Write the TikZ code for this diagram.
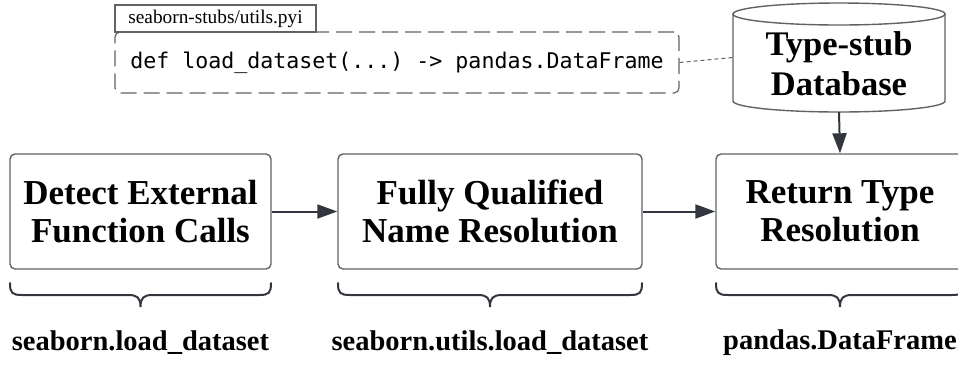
\documentclass[tikz,border=0pt]{standalone}
\usepackage{fontspec}
\setmainfont{Liberation Serif}
\newfontfamily\codefont{DejaVu Sans Mono}
\usetikzlibrary{arrows.meta}
\definecolor{boxline}{HTML}{5F6368}
\definecolor{darkline}{HTML}{33373D}
\tikzset{
  stepbox/.style={draw=boxline, line width=1.4pt, rounded corners=5pt, inner sep=0pt,
    minimum height=115pt, align=center, font=\fontsize{35}{38}\selectfont\bfseries},
  flow/.style={draw=darkline, line width=2pt, -{Triangle[length=20pt,width=14pt]}},
  bracepath/.style={draw=darkline, line width=2pt, line cap=round},
  outlabel/.style={font=\fontsize{28.5}{32}\selectfont\bfseries, inner sep=0pt},
}
\begin{document}
\frenchspacing
\begin{tikzpicture}[x=1pt,y=-1pt]
\useasboundingbox (0,0) rectangle (958,365);
\clip (0,0) rectangle (958,365);
% code box
\node (code) [draw=boxline, line width=1.2pt, dash pattern=on 16pt off 7pt, rounded corners=5pt,
  minimum width=564pt, minimum height=61pt, inner sep=0pt] at (397,62.5)
  {\codefont\frenchspacing\fontsize{21.6}{24}\selectfont def load\char"5F dataset(...) -> pandas.DataFrame};
\node (tab) [draw=boxline, line width=1.2pt, fill=white, minimum width=201pt, minimum height=27pt, inner sep=0pt,
  font=\fontsize{19.3}{22}\selectfont] at (215.5,18.5) {seaborn-stubs/utils.pyi};
% cylinder
\node (db) [minimum width=212pt, minimum height=109pt, inner sep=0pt] at (839,57.5) {};
\draw[boxline, line width=1.4pt, fill=white] (733,14) -- (733,101)
  arc[start angle=180, end angle=360, x radius=106pt, y radius=11pt] -- (945,14);
\draw[boxline, line width=1.4pt, fill=white] (839,14) ellipse[x radius=106pt, y radius=11pt];
\node (dbtext) [align=center, inner sep=0pt, font=\fontsize{34.5}{40}\selectfont\bfseries] at (839,64) {Type-stub\\Database};
\coordinate (dbbottom) at (839,112);
% boxes
\node (b1) [stepbox, minimum width=261pt] at (140.5,211.5) {Detect External\\Function Calls};
\node (b2) [stepbox, minimum width=304pt] at (490,211.5) {Fully Qualified\\Name Resolution};
\node (b3) [stepbox, minimum width=248pt] at (840,211.5) {Return Type\\Resolution};
% connectors
\draw[flow] (b1.east) -- (b2.west);
\draw[flow] (b2.east) -- (b3.west);
\draw[flow] (dbbottom) -- (b3.north);
\draw[boxline, line width=1pt, dash pattern=on 4pt off 3pt] (code.east) -- (db.west);
% braces
\foreach \xa/\xb in {10/271, 338/642, 716/964}{
  \pgfmathsetmacro{\xc}{(\xa+\xb)/2}
  \draw[bracepath] (\xa,283) .. controls (\xa,293) and (\xa+2,295) .. (\xa+12,295)
    -- (\xc-12,295) .. controls (\xc-3,295) and (\xc,298) .. (\xc,307)
    .. controls (\xc,298) and (\xc+3,295) .. (\xc+12,295)
    -- (\xb-12,295) .. controls (\xb-2,295) and (\xb,293) .. (\xb,283);
}
% labels
\node (l1) [outlabel] at (140.5,343) {seaborn.load\_dataset};
\node (l2) [outlabel] at (490,343) {seaborn.utils.load\_dataset};
\node (l3) [outlabel] at (840,343) {pandas.DataFrame};
\end{tikzpicture}
\end{document}
